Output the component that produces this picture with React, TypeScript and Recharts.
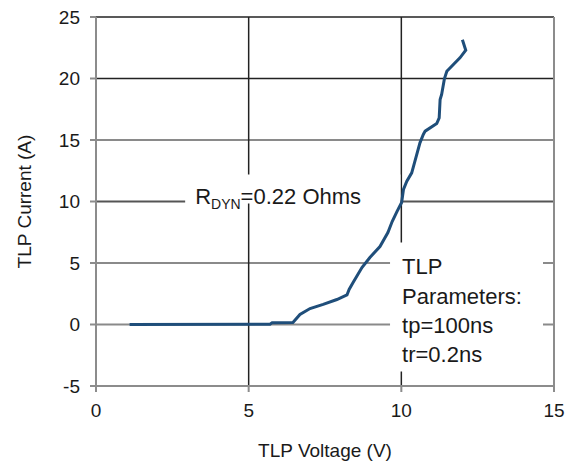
import React from "react";
import {
  LineChart,
  Line,
  XAxis,
  YAxis,
  CartesianGrid,
  ReferenceArea,
} from "recharts";

const voltage = [
  1.1, 5.7, 5.77, 6.45, 6.68, 7.01, 7.44, 7.89, 8.22, 8.29, 8.42, 8.71, 8.97,
  9.3, 9.56, 9.7, 9.86, 10.01, 10.07, 10.18, 10.34, 10.43, 10.61, 10.72, 10.78,
  11.16, 11.24, 11.27, 11.32, 11.41, 11.49, 11.92, 12.11, 12.0,
];
const current = [
  0, 0.02, 0.15, 0.17, 0.81, 1.3, 1.63, 2.03, 2.4, 2.85, 3.41, 4.63, 5.45,
  6.34, 7.48, 8.37, 9.19, 9.92, 10.98, 11.65, 12.33, 13.14, 14.77, 15.45, 15.72,
  16.34, 16.8, 18.29, 18.7, 19.97, 20.59, 21.68, 22.3, 23.15,
];
const xTicks = [0, 5, 10, 15];
const yTicks = [-5, 0, 5, 10, 15, 20, 25];
const darkY = [25, 20];
const midY = [10];
const lightY = [15, 5, 0];
const darkX = [5, 10];
const borderX = [15];
const paramLines = ["TLP", "Parameters:", "tp=100ns", "tr=0.2ns"];

const data = voltage.map((v, i) => ({ v, i: current[i] }));

const FONT = "'Liberation Sans', Arial, sans-serif";
const TEXT = "#1a1a1a";

const RdynLabel = (props: any) => {
  const vb = props.viewBox || {};
  return (
    <text
      x={vb.x + 10}
      y={vb.y + 30}
      fontFamily={FONT}
      fontSize={22}
      fill={TEXT}
    >
      <tspan>R</tspan>
      <tspan fontSize={14} dy={5}>
        DYN
      </tspan>
      <tspan dy={-5}>=0.22 Ohms</tspan>
    </text>
  );
};

const ParamLabel = (props: any) => {
  const vb = props.viewBox || {};
  return (
    <text fontFamily={FONT} fontSize={22} fill={TEXT}>
      {paramLines.map((t, k) => (
        <tspan key={k} x={vb.x + 12} y={vb.y + 32 + k * 29.3}>
          {t}
        </tspan>
      ))}
    </text>
  );
};

export default function App() {
  return (
    <div style={{ position: "absolute", left: 0, top: 0, background: "#fff" }}>
      <LineChart
        width={574}
        height={462}
        data={data}
        margin={{ top: 17, right: 20, left: 36, bottom: 0 }}
      >
        <CartesianGrid
          vertical={false}
          horizontalValues={lightY}
          stroke="#8a8a8a"
          strokeWidth={2}
        />
        <CartesianGrid
          vertical={false}
          horizontalValues={midY}
          stroke="#555"
          strokeWidth={2}
        />
        <CartesianGrid
          vertical={false}
          horizontalValues={darkY}
          stroke="#222"
          strokeWidth={1.5}
        />
        <CartesianGrid
          horizontal={false}
          verticalValues={darkX}
          stroke="#222"
          strokeWidth={1.5}
        />
        <CartesianGrid
          horizontal={false}
          verticalValues={borderX}
          stroke="#8c8c8c"
          strokeWidth={2}
        />
        <XAxis
          dataKey="v"
          type="number"
          domain={[0, 15]}
          ticks={xTicks}
          allowDataOverflow
          height={76}
          stroke="#8c8c8c"
          strokeWidth={2}
          tickSize={6}
          tickMargin={12}
          tick={{ fill: TEXT, fontSize: 19, fontFamily: FONT }}
          label={{
            value: "TLP Voltage (V)",
            position: "insideBottom",
            offset: 5,
            fill: TEXT,
            fontSize: 19,
            fontFamily: FONT,
          }}
        />
        <YAxis
          type="number"
          domain={[-5, 25]}
          ticks={yTicks}
          allowDataOverflow
          width={60}
          stroke="#8c8c8c"
          strokeWidth={2}
          tickSize={6}
          tickMargin={10}
          tick={{ fill: TEXT, fontSize: 19, fontFamily: FONT }}
          label={{
            value: "TLP Current (A)",
            angle: -90,
            position: "insideLeft",
            offset: -12,
            fill: TEXT,
            fontSize: 19,
            fontFamily: FONT,
            style: { textAnchor: "middle" },
          }}
        />
        <ReferenceArea
          x1={2.92}
          x2={9.97}
          y1={9.84}
          y2={12.2}
          fill="#ffffff"
          fillOpacity={1}
          stroke="none"
          label={<RdynLabel />}
        />
        <ReferenceArea
          x1={9.63}
          x2={14.64}
          y1={-3.82}
          y2={6.67}
          fill="#ffffff"
          fillOpacity={1}
          stroke="none"
          label={<ParamLabel />}
        />
        <Line
          dataKey="i"
          type="linear"
          stroke="#1f4e7a"
          strokeWidth={3}
          dot={false}
          isAnimationActive={false}
        />
      </LineChart>
    </div>
  );
}
